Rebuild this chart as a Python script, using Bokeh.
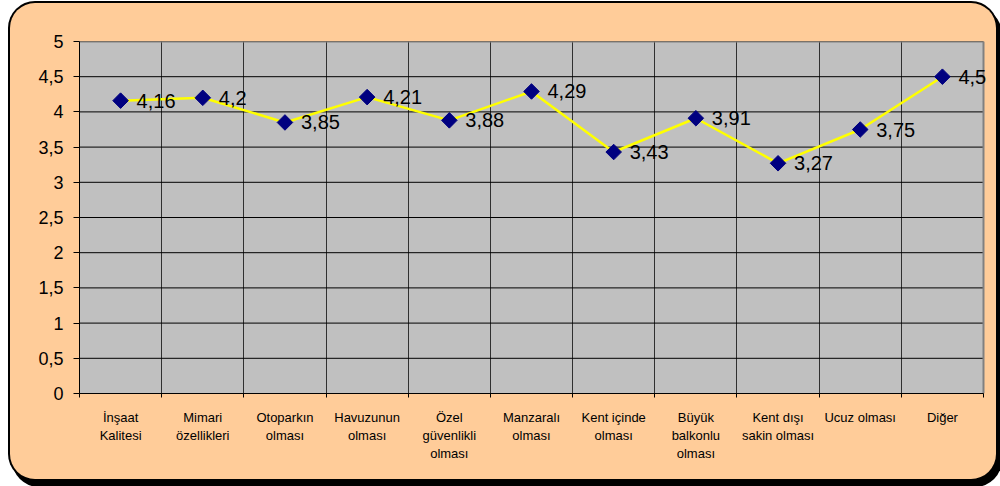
from bokeh.plotting import figure
from bokeh.models import Range1d, FixedTicker, BoxAnnotation, ColumnDataSource, LabelSet
from bokeh.core.properties import value
from bokeh.embed import file_html
from bokeh.resources import INLINE

categories = ["İnşaat\nKalitesi", "Mimari\nözellikleri", "Otoparkın\nolması",
              "Havuzunun\nolması", "Özel\ngüvenlikli\nolması", "Manzaralı\nolması",
              "Kent içinde\nolması", "Büyük\nbalkonlu\nolması", "Kent dışı\nsakin olması",
              "Ucuz olması", "Diğer"]
scores = [4.16, 4.2, 3.85, 4.21, 3.88, 4.29, 3.43, 3.91, 3.27, 3.75, 4.5]
score_labels = ["4,16", "4,2", "3,85", "4,21", "3,88", "4,29", "3,43", "3,91", "3,27", "3,75", "4,5"]
y_ticks = [0, 0.5, 1, 1.5, 2, 2.5, 3, 3.5, 4, 4.5, 5]
y_tick_labels = ["0", "0,5", "1", "1,5", "2", "2,5", "3", "3,5", "4", "4,5", "5"]

FONT = "Liberation Sans"
# outer panel (page px)
PL, PT, PW, PH = 10, 3, 986, 476
# plot area edges (page px)
FL, FR, FT, FB = 79, 983, 41, 393

n = len(categories)
xs = [i + 0.5 for i in range(n)]
x_end = n + n * ((PL + PW) - FR) / (FR - FL)   # frame extends to panel edge so labels are not cut

p = figure(width=PW, height=PH, output_backend="svg", toolbar_location=None,
           title=None, x_range=Range1d(0, x_end), y_range=Range1d(0, 5),
           min_border_left=FL - PL, min_border_right=0, min_border_top=FT - PT,
           min_border_bottom=(PT + PH) - FB,
           styles={"margin-left": f"{PL}px", "margin-top": f"{PT}px",
                   "background-color": "#FFCC99", "border-radius": "25px",
                   "box-shadow": "0 0 0 2px black, 4px 6px 0 2px black"})
p.border_fill_color = None
p.background_fill_color = None
p.outline_line_color = None

# grey plot area with grey top/right edge
p.add_layout(BoxAnnotation(left=0, right=n, bottom=0, top=5, fill_color="#C0C0C0", fill_alpha=1,
                           line_color=None, level="image"))

# x axis: labels at category centres, ticks at boundaries
p.xaxis.ticker = FixedTicker(ticks=xs, minor_ticks=list(range(n + 1)))
p.xaxis.bounds = (0, n)
p.xaxis.major_label_overrides = {x: c for x, c in zip(xs, categories)}
p.xaxis.major_tick_line_color = None
p.xaxis.major_tick_out = 0
p.xaxis.major_tick_in = 0
p.xaxis.minor_tick_line_color = "black"
p.xaxis.minor_tick_out = 4
p.xaxis.minor_tick_in = 0
p.xaxis.major_label_standoff = 12
p.xaxis.major_label_text_font = FONT
p.xaxis.major_label_text_font_size = "13px"
p.xaxis.major_label_text_color = "black"
p.xaxis.axis_line_color = "black"

p.xgrid.ticker = FixedTicker(ticks=list(range(1, n)))
p.xgrid.grid_line_color = "#303030"
p.xgrid.grid_line_width = 1
p.ygrid.visible = False

p.yaxis.ticker = FixedTicker(ticks=y_ticks)
p.yaxis.major_label_overrides = {t: l for t, l in zip(y_ticks, y_tick_labels)}
p.yaxis.minor_tick_line_color = None
p.yaxis.major_tick_out = 6
p.yaxis.major_tick_in = 0
p.yaxis.major_tick_line_color = "black"
p.yaxis.major_label_standoff = 10
p.yaxis.major_label_text_font = FONT
p.yaxis.major_label_text_font_size = "18px"
p.yaxis.major_label_text_color = "black"
p.yaxis.axis_line_color = "black"

# horizontal grid lines limited to the plot area
p.segment(x0=[0] * len(y_ticks), x1=[n] * len(y_ticks), y0=y_ticks, y1=y_ticks,
          line_color="black", line_width=1)
# grey edge at top and right of the plot area
p.line(x=[0, n, n], y=[5, 5, 0], line_color="#808080", line_width=2)

src = ColumnDataSource(dict(x=xs, y=scores, lab=score_labels))
p.line("x", "y", source=src, line_color="#FFFF00", line_width=2.5)
p.scatter("x", "y", source=src, marker="square", angle=0.785398, size=11,
          fill_color="#000080", line_color="#000080")
labels = LabelSet(x="x", y="y", text="lab", source=src, x_offset=16, y_offset=0,
                  text_baseline="middle", text_font=value(FONT), text_font_size="20px",
                  text_color="black")
p.add_layout(labels)

open("out.html", "w").write(file_html(p, INLINE))
